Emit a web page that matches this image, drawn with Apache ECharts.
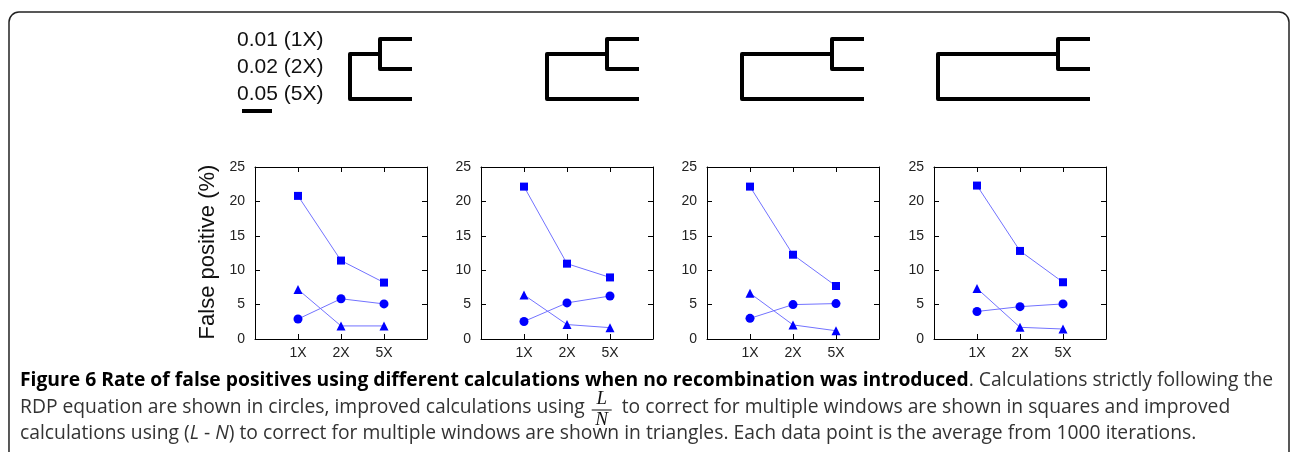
<!DOCTYPE html>
<html>
<head>
<meta charset="utf-8">
<script src="https://cdn.jsdelivr.net/npm/echarts@6/dist/echarts.min.js"></script>
<style>
  html, body { margin: 0; padding: 0; background: #fff; }
  #main { width: 1292px; height: 452px; }
</style>
</head>
<body>
<div id="main"></div>
<script>
// 数据
var xLabels = ['1X', '2X', '5X'];
var yTicks = [0, 5, 10, 15, 20, 25];
var circleVals = [
  [2.9, 5.85, 5.1],
  [2.55, 5.25, 6.25],
  [3.0, 5.0, 5.15],
  [4.0, 4.7, 5.1]
];
var squareVals = [
  [20.8, 11.4, 8.2],
  [22.15, 10.95, 8.95],
  [22.15, 12.25, 7.7],
  [22.3, 12.8, 8.25]
];
var triangleVals = [
  [7.2, 1.9, 1.9],
  [6.4, 2.1, 1.65],
  [6.65, 2.05, 1.2],
  [7.35, 1.7, 1.45]
];
// 树的分支长度
var innerBranch = [0.01, 0.02, 0.03, 0.04];
var leafBranch = 0.01;
var scaleBar = 0.01;
var treeLabels = ['0.01 (1X)', '0.02 (2X)', '0.05 (5X)'];

var panelLeft = [255, 481, 707, 934];// 每个小图左边距
var treeLeft = [350, 547, 742, 938];

var grid = [], xAxis = [], yAxis = [], series = [];
var axisFont = 'Liberation Sans, Arial, sans-serif';

for (var i = 0; i < 4; i++) {
  grid.push({ left: panelLeft[i], top: 167, width: 172, height: 172 });
  var g = grid.length - 1;
  // 下 x 轴
  xAxis.push({
    type: 'value', gridIndex: g, min: 0, max: 4, interval: 1, position: 'bottom',
    axisLine: { show: true, onZero: false, lineStyle: { color: '#000', width: 1 } },
    axisTick: { show: true, inside: true, length: 5, lineStyle: { color: '#000' } },
    axisLabel: {
      margin: 7, fontSize: 14, color: '#222', fontFamily: axisFont,
      formatter: function (v) { return xLabels[v - 1] || ''; }
    },
    splitLine: { show: false }
  });
  // 上 x 轴
  xAxis.push({
    type: 'value', gridIndex: g, min: 0, max: 4, interval: 1, position: 'top',
    axisLine: { show: true, onZero: false, lineStyle: { color: '#000', width: 1 } },
    axisTick: { show: true, inside: true, length: 5, lineStyle: { color: '#000' } },
    axisLabel: { show: false },
    splitLine: { show: false }
  });
  var xi = xAxis.length - 2;
  yAxis.push({
    type: 'value', gridIndex: g, min: 0, max: 25, interval: 5, position: 'left',
    axisLine: { show: true, onZero: false, lineStyle: { color: '#000', width: 1 } },
    axisTick: { show: true, inside: true, length: 5, lineStyle: { color: '#000' } },
    axisLabel: { margin: 10, fontSize: 14, color: '#222', fontFamily: axisFont },
    splitLine: { show: false }
  });
  yAxis.push({
    type: 'value', gridIndex: g, min: 0, max: 25, interval: 5, position: 'right',
    axisLine: { show: true, onZero: false, lineStyle: { color: '#000', width: 1 } },
    axisTick: { show: true, inside: true, length: 5, lineStyle: { color: '#000' } },
    axisLabel: { show: false },
    splitLine: { show: false }
  });
  var yi = yAxis.length - 2;

  var sets = [
    { vals: circleVals[i], symbol: 'circle', size: 9 },
    { vals: squareVals[i], symbol: 'rect', size: 8 },
    { vals: triangleVals[i], symbol: 'triangle', size: 9 }
  ];
  for (var s = 0; s < sets.length; s++) {
    var d = [];
    for (var k = 0; k < xLabels.length; k++) d.push([k + 1, sets[s].vals[k]]);
    series.push({
      type: 'line', xAxisIndex: xi, yAxisIndex: yi, data: d,
      symbol: sets[s].symbol, symbolSize: sets[s].size, showAllSymbol: true,
      itemStyle: { color: '#0000ff' },
      lineStyle: { color: '#7272ff', width: 1 },
      animation: false, silent: true
    });
  }
}

// 树
function hiddenX(g) {
  return { type: 'value', gridIndex: g, min: 0, max: 0.05, show: false };
}
function treeLine(xi, yi, data) {
  return {
    type: 'line', xAxisIndex: xi, yAxisIndex: yi, data: data, symbol: 'none',
    clip: false, lineStyle: { color: '#000', width: 4, join: 'round', cap: 'square' },
    animation: false, silent: true
  };
}
for (var t = 0; t < 4; t++) {
  grid.push({ left: treeLeft[t], top: 39, width: 150, height: 60 });
  var tg = grid.length - 1;
  xAxis.push(hiddenX(tg));
  yAxis.push({ type: 'value', gridIndex: tg, min: 0, max: 2, inverse: true, show: false });
  var a = innerBranch[t], b = innerBranch[t] + leafBranch;
  series.push(treeLine(xAxis.length - 1, yAxis.length - 1, [[b, 0], [a, 0], [a, 1], [b, 1]]));
  series.push(treeLine(xAxis.length - 1, yAxis.length - 1, [[a, 0.5], [0, 0.5], [0, 2], [b, 2]]));
}
// 比例尺
grid.push({ left: 242, top: 101, width: 150, height: 20 });
xAxis.push(hiddenX(grid.length - 1));
yAxis.push({ type: 'value', gridIndex: grid.length - 1, min: -1, max: 1, show: false });
series.push({
  type: 'line', xAxisIndex: xAxis.length - 1, yAxisIndex: yAxis.length - 1,
  data: [[0, 0], [scaleBar, 0]], symbol: 'none', clip: false,
  lineStyle: { color: '#000', width: 4 }, animation: false, silent: true
});

// 图注
var capFont = '"Open Sans", "Noto Sans", sans-serif';
var capNormal = '19.3px ' + capFont;
var line2a = 'RDP equation are shown in circles, improved calculations using';
var line2b = 'to correct for multiple windows are shown in squares and improved';
var ctx = document.createElement('canvas').getContext('2d');
ctx.font = capNormal;
var fracX = 20 + ctx.measureText(line2a).width + 17;

var graphic = [
  { type: 'rect', shape: { x: 9, y: 12, width: 1280, height: 470, r: 10 },
    style: { fill: 'none', stroke: '#222', lineWidth: 1.5 }, silent: true },
  { type: 'text', x: 208, y: 252, rotation: Math.PI / 2,
    style: { text: 'False positive (%)', font: '22px ' + axisFont, fill: '#111', align: 'center', verticalAlign: 'middle' } }
];
for (var r = 0; r < treeLabels.length; r++) {
  graphic.push({ type: 'text', x: 237, y: 40 + r * 27,
    style: { text: treeLabels[r], font: '21px ' + axisFont, fill: '#111', align: 'left', verticalAlign: 'middle' } });
}
graphic.push({ type: 'text', x: 20, y: 381,
  style: {
    text: '{b|Figure 6 Rate of false positives using different calculations when no recombination was introduced}{n|. Calculations strictly following the}',
    verticalAlign: 'middle',
    rich: {
      b: { font: 'bold ' + capNormal, fill: '#000' },
      n: { font: capNormal, fill: '#333' }
    }
  } });
graphic.push({ type: 'text', x: 20, y: 408,
  style: { text: line2a, font: capNormal, fill: '#333', verticalAlign: 'middle' } });
graphic.push({ type: 'text', x: fracX, y: 399,
  style: { text: 'L', font: 'italic 19px "Liberation Serif", serif', fill: '#111', align: 'center', verticalAlign: 'middle' } });
graphic.push({ type: 'line', shape: { x1: fracX - 10, y1: 410, x2: fracX + 10, y2: 410 }, style: { stroke: '#111', lineWidth: 1 } });
graphic.push({ type: 'text', x: fracX, y: 420,
  style: { text: 'N', font: 'italic 19px "Liberation Serif", serif', fill: '#111', align: 'center', verticalAlign: 'middle' } });
graphic.push({ type: 'text', x: fracX + 20, y: 408,
  style: { text: line2b, font: capNormal, fill: '#333', verticalAlign: 'middle' } });
graphic.push({ type: 'text', x: 20, y: 434,
  style: {
    text: 'calculations using ({i|L} - {i|N}) to correct for multiple windows are shown in triangles. Each data point is the average from 1000 iterations.',
    font: capNormal, fill: '#333', verticalAlign: 'middle',
    rich: { i: { font: 'italic ' + capNormal, fill: '#333' } }
  } });

var myChart = echarts.init(document.getElementById('main'));
myChart.setOption({
  animation: false,
  grid: grid,
  xAxis: xAxis,
  yAxis: yAxis,
  series: series,
  graphic: graphic
});
</script>
</body>
</html>
